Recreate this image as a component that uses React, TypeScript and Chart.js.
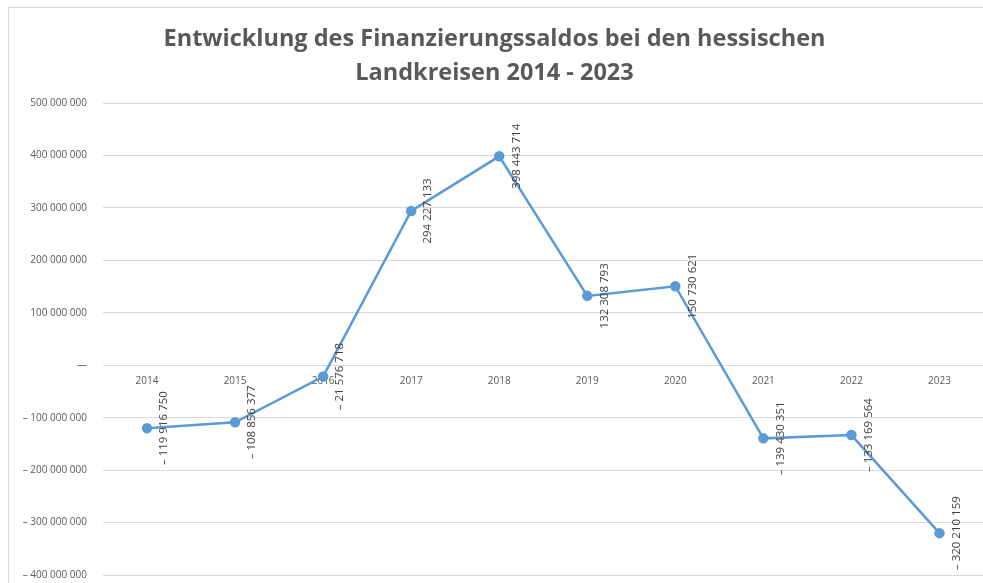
import React, { useEffect, useRef } from "react";
import { Chart, registerables } from "chart.js";

Chart.register(...registerables);

const years: string[] = ["2014", "2015", "2016", "2017", "2018", "2019", "2020", "2021", "2022", "2023"];
const saldo: number[] = [
  -119916750, -108856377, -21576718, 294227133, 398443714,
  132308793, 150730621, -139430351, -133169564, -320210159,
];
const yMin = -400000000;
const yMax = 500000000;
const yStep = 100000000;
const titleLines: string[] = [
  "Entwicklung des Finanzierungssaldos bei den hessischen",
  "Landkreisen 2014 - 2023",
];

const FONT = '"Open Sans", "Noto Sans", sans-serif';

function fmt(v: number): string {
  if (v === 0) return "—";
  const s = Math.abs(Math.round(v)).toString().replace(/\B(?=(\d{3})+(?!\d))/g, " ");
  return v < 0 ? "– " + s : s;
}

const valueLabels = {
  id: "valueLabels",
  afterDatasetsDraw(chart: any) {
    const ctx = chart.ctx;
    const meta = chart.getDatasetMeta(0);
    const data = chart.data.datasets[0].data as number[];
    meta.data.forEach((pt: any, i: number) => {
      ctx.save();
      ctx.translate(pt.x + 17, pt.y);
      ctx.rotate(-Math.PI / 2);
      ctx.textAlign = "center";
      ctx.textBaseline = "middle";
      ctx.font = `11.5px ${FONT}`;
      ctx.fillStyle = "#404040";
      ctx.fillText(fmt(data[i]), 0, 0);
      ctx.restore();
    });
  },
};

export default function App() {
  const ref = useRef<HTMLCanvasElement | null>(null);

  useEffect(() => {
    if (!ref.current) return;
    const chart = new Chart(ref.current, {
      type: "line",
      data: {
        labels: years,
        datasets: [
          {
            data: saldo,
            borderColor: "#5b9bd5",
            backgroundColor: "#5b9bd5",
            borderWidth: 2.5,
            pointRadius: 4,
            pointBackgroundColor: "#5b9bd5",
            pointBorderColor: "#5b9bd5",
            tension: 0,
          },
        ],
      },
      options: {
        animation: false,
        responsive: true,
        maintainAspectRatio: false,
        layout: { padding: { top: 0, left: 0, right: 1, bottom: 9 } },
        plugins: {
          legend: { display: false },
          tooltip: { enabled: false },
          title: {
            display: true,
            text: titleLines,
            color: "#595959",
            font: { family: FONT, size: 23.5, weight: "bold", lineHeight: 1.48 },
            padding: { top: 21.5, bottom: 12 },
          },
        },
        scales: {
          x: {
            type: "category",
            offset: true,
            position: { y: 0 } as any,
            grid: { display: false, drawTicks: false },
            border: { display: false },
            ticks: {
              color: "#595959",
              font: { family: FONT, size: 10 },
              padding: 10,
              maxRotation: 0,
              autoSkip: false,
            },
            afterFit: (scale: any) => {
              scale.height = 0;
            },
          },
          y: {
            min: yMin,
            max: yMax,
            grid: { color: "#d9d9d9", drawTicks: false, lineWidth: 1 },
            border: { display: false },
            ticks: {
              stepSize: yStep,
              color: "#595959",
              font: { family: FONT, size: 10 },
              padding: 16,
              callback: (v: any) => fmt(Number(v)),
            },
            afterFit: (scale: any) => {
              scale.width = 103;
            },
          },
        },
      },
      plugins: [valueLabels],
    });
    return () => chart.destroy();
  }, []);

  return (
    <div style={{ position: "fixed", left: 0, top: 0, width: 983, height: 583, overflow: "hidden", background: "#fff" }}>
      <div
        style={{
          position: "absolute",
          left: 8,
          top: 7,
          width: 1000,
          height: 600,
          border: "1px solid #d9d9d9",
          boxSizing: "border-box",
        }}
      />
      <div style={{ position: "absolute", left: 0, top: 0, width: 990, height: 597 }}>
        <canvas ref={ref} />
      </div>
    </div>
  );
}
